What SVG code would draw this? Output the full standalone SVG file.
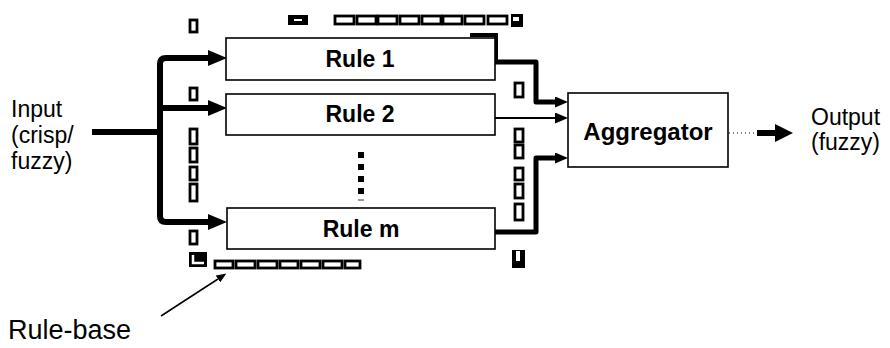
<svg xmlns="http://www.w3.org/2000/svg" width="890" height="348" viewBox="0 0 890 348">
  <style>
    .box { fill: #fff; stroke: #000; stroke-width: 1.6; }
    .lbl { font-family: "Liberation Sans", Arial, sans-serif; font-weight: 700; font-size: 23px; fill: #000; text-anchor: middle; }
    .txt { font-family: "Liberation Sans", Arial, sans-serif; font-size: 23px; fill: #000; }
    .big { font-size: 24px; }
    .cap { font-size: 27px; }
    .wire { fill: none; stroke: #000; stroke-linejoin: round; }
    .rb { fill: #fff; stroke: #000; stroke-width: 2.8; }
    .rbk { fill: #000; }
  </style>
  <defs>
    <marker id="ah-big" markerUnits="userSpaceOnUse" markerWidth="19" markerHeight="16" viewBox="0 0 19 16" refX="0" refY="8" orient="auto-start-reverse">
      <path d="M0,0 L19,8 L0,16 z" fill="#000"/>
    </marker>
    <marker id="ah-mid" markerUnits="userSpaceOnUse" markerWidth="13" markerHeight="11" viewBox="0 0 13 11" refX="0" refY="5.5" orient="auto">
      <path d="M0,0 L13,5.5 L0,11 z" fill="#000"/>
    </marker>
    <marker id="ah-out" markerUnits="userSpaceOnUse" markerWidth="18" markerHeight="18" viewBox="0 0 18 18" refX="0" refY="9" orient="auto">
      <path d="M0,0 L18,9 L0,18 z" fill="#000"/>
    </marker>
    <marker id="ah-small" markerUnits="userSpaceOnUse" markerWidth="10" markerHeight="8" viewBox="0 0 10 8" refX="0" refY="4" orient="auto">
      <path d="M0,0 L10,4 L0,8 z" fill="#000"/>
    </marker>
  </defs>

  <!-- connectors -->
  <g id="connectors">
    <path class="wire" d="M92,132 H160" stroke-width="6"/>
    <path class="wire" d="M208,58 H166 Q160,58 160,64 V216 Q160,222 166,222 H208" stroke-width="6" marker-start="url(#ah-big)" marker-end="url(#ah-big)"/>
    <path class="wire" d="M160,108 H208" stroke-width="6" marker-end="url(#ah-big)"/>
    <path class="wire" d="M495,62 H536 V102 H555" stroke-width="5" marker-end="url(#ah-mid)"/>
    <path class="wire" d="M495,118 H555" stroke-width="2" marker-end="url(#ah-mid)"/>
    <path class="wire" d="M495,232 H536 V158 H555" stroke-width="5" marker-end="url(#ah-mid)"/>
    <path class="wire" d="M729,133 H757" stroke="#777" stroke-width="1" stroke-dasharray="1 3"/>
    <path class="wire" d="M757,133 H775" stroke-width="6" marker-end="url(#ah-out)"/>
    <path class="wire" d="M161,316 L218,279" stroke-width="1.5" marker-end="url(#ah-small)"/>
  </g>

  <!-- rule-base boundary (broken dashed outline) -->
  <g id="rule-base">
    <rect class="rb" x="190" y="20" width="7" height="12"/>
    <rect class="rbk" x="288" y="15" width="20" height="10"/>
    <rect fill="#fff" x="294" y="19" width="8" height="2"/>
    <rect class="rb" x="335" y="16" width="19" height="8"/>
    <rect class="rb" x="357" y="16" width="19" height="8"/>
    <rect class="rb" x="378" y="16" width="19" height="8"/>
    <rect class="rb" x="400" y="16" width="19" height="8"/>
    <rect class="rb" x="422" y="16" width="19" height="8"/>
    <rect class="rb" x="443" y="16" width="19" height="8"/>
    <rect class="rb" x="465" y="16" width="19" height="8"/>
    <rect class="rb" x="488" y="16" width="19" height="8"/>
    <rect class="rbk" x="511" y="14" width="12" height="13"/>
    <rect fill="#fff" x="513" y="17" width="6" height="4"/>
    <path d="M470,35 H496 V62" fill="none" stroke="#000" stroke-width="4"/>

    <rect class="rb" x="190" y="88" width="7" height="12"/>
    <rect class="rb" x="190" y="129" width="7" height="15"/>
    <rect class="rb" x="190" y="148" width="7" height="14"/>
    <rect class="rb" x="190" y="167" width="7" height="13"/>
    <rect class="rb" x="190" y="184" width="7" height="17"/>
    <rect class="rb" x="190" y="231" width="7" height="13"/>
    <path d="M189,252 H207 V267 H189 z" fill="#000"/>
    <path d="M193,255 V263 H204" fill="none" stroke="#fff" stroke-width="2.5"/>

    <rect class="rb" x="215" y="261" width="18" height="7"/>
    <rect class="rb" x="236" y="261" width="19" height="7"/>
    <rect class="rb" x="258" y="261" width="19" height="7"/>
    <rect class="rb" x="280" y="261" width="18" height="7"/>
    <rect class="rb" x="301" y="261" width="19" height="7"/>
    <rect class="rb" x="323" y="261" width="19" height="7"/>
    <rect class="rb" x="345" y="261" width="15" height="7"/>

    <rect class="rb" x="515" y="83" width="8" height="14"/>
    <rect class="rb" x="515" y="129" width="8" height="13"/>
    <rect class="rb" x="515" y="145" width="8" height="13"/>
    <rect class="rb" x="515" y="168" width="8" height="12"/>
    <rect class="rb" x="515" y="184" width="8" height="14"/>
    <rect class="rb" x="515" y="204" width="8" height="16"/>
    <path d="M512,250 H525 V268 H512 z" fill="#000"/>
    <rect fill="#fff" x="516" y="251" width="4" height="10"/>
  </g>

  <g id="rule1">
    <rect class="box" x="226" y="38" width="269" height="42"/>
    <text class="lbl" x="360" y="67">Rule 1</text>
  </g>
  <g id="rule2">
    <rect class="box" x="226" y="94" width="269" height="41"/>
    <text class="lbl" x="360" y="122">Rule 2</text>
  </g>
  <g id="ellipsis">
    <rect x="358" y="152" width="6" height="6" fill="#000"/>
    <rect x="358" y="164" width="6" height="6" fill="#000"/>
    <rect x="358" y="176" width="6" height="6" fill="#000"/>
    <rect x="358" y="188" width="6" height="6" fill="#000"/>
    <rect x="358" y="199" width="6" height="2" fill="#999"/>
  </g>
  <g id="rulem">
    <rect class="box" x="227" y="208" width="268" height="41"/>
    <text class="lbl" x="361" y="237">Rule m</text>
  </g>
  <g id="aggregator">
    <rect class="box" x="568" y="93" width="160" height="74"/>
    <text class="lbl big" x="648" y="140">Aggregator</text>
  </g>

  <g id="input">
    <text class="txt" x="11" y="117">Input</text>
    <text class="txt" x="11" y="143">(crisp/</text>
    <text class="txt" x="11" y="169">fuzzy)</text>
  </g>
  <g id="output">
    <text class="txt" x="811" y="125">Output</text>
    <text class="txt" x="811" y="150">(fuzzy)</text>
  </g>
  <g id="rule-base-label">
    <text class="txt cap" x="8" y="339">Rule-base</text>
  </g>
</svg>
